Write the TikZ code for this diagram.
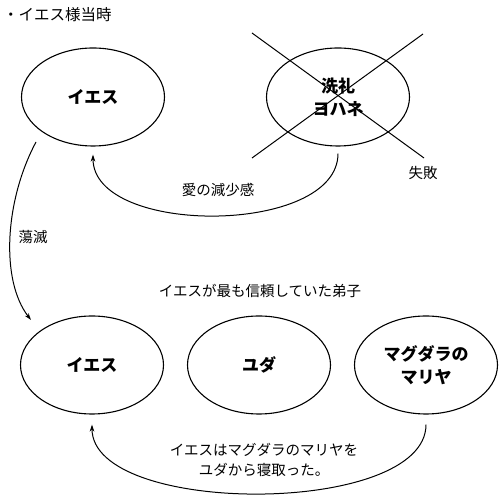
\documentclass[tikz,border=0pt]{standalone}
\usepackage{fontspec}
\setmainfont{Noto Sans CJK JP}
\usetikzlibrary{shapes.geometric,arrows.meta}
\begin{document}
\begin{tikzpicture}[x=1pt,y=1pt,
  oval/.style={draw,line width=1.1pt,ellipse,minimum width=143pt,minimum height=98pt,inner sep=0pt,align=center,font=\fontsize{17}{23}\selectfont\bfseries},
  lbl/.style={font=\fontsize{14.5}{20}\selectfont,inner sep=0pt,align=center},
  conn/.style={line width=1pt,-{Stealth[length=7pt,width=4.5pt]}},
  crossline/.style={line width=1pt}]
\useasboundingbox (0,0) rectangle (500,497);
\node[lbl,anchor=west,font=\fontsize{15.5}{20}\selectfont] (title) at (3,482) {・イエス様当時};
\node[oval] (e1) at (93,400) {イエス};
\node[oval] (e2) at (338,400) {洗礼\\ヨハネ};
\coordinate (c1) at (252,464); \coordinate (c2) at (424,339);
\coordinate (c3) at (423,463); \coordinate (c4) at (252,339);
\draw[crossline] (c1) -- (c2);
\draw[crossline] (c3) -- (c4);
\node[lbl] (fail) at (423,324) {失敗};
\draw[conn] ([yshift=-7pt]e2.south) .. controls +(0,-82) and +(0,-82) .. ([yshift=-8pt]e1.south);
\node[lbl] (love) at (218,307) {愛の減少感};
\node[oval] (e3) at (92,132) {イエス};
\node[oval] (e4) at (259,132) {ユダ};
\node[oval] (e5) at (426,132) {マグダラの\\マリヤ};
\draw[conn] ([xshift=-57pt,yshift=-45pt]e1.center) .. controls +(-31,-58) and +(-31,40) .. ([xshift=-61pt,yshift=45pt]e3.center);
\node[lbl] (toumetsu) at (33,260) {蕩滅};
\node[lbl] (trust) at (260,206) {イエスが最も信頼していた弟子};
\draw[conn] ([yshift=-10pt]e5.south) .. controls +(0,-92) and +(0,-92) .. ([yshift=-10pt]e3.south);
\node[lbl] (steal) at (264,37) {イエスはマグダラのマリヤを\\ユダから寝取った。};
\end{tikzpicture}
\end{document}
